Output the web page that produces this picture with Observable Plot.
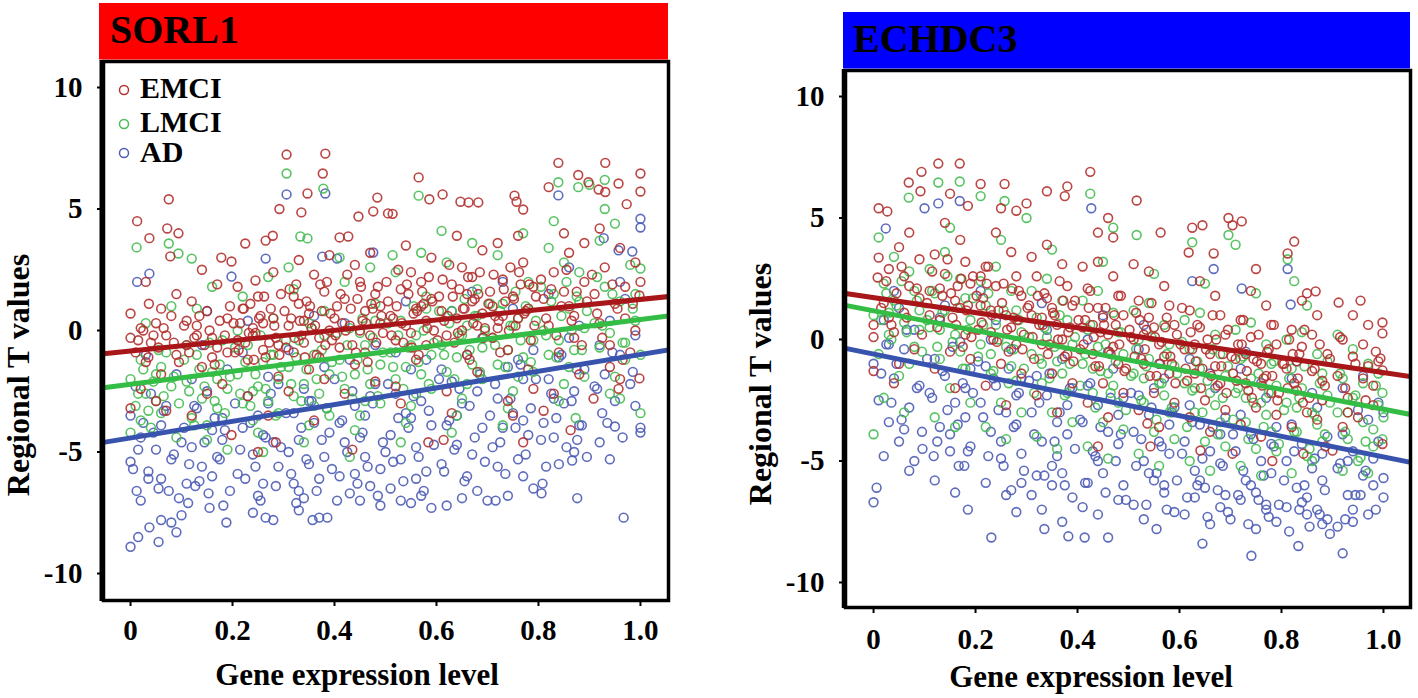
<!DOCTYPE html>
<html><head><meta charset="utf-8">
<script src="https://cdn.jsdelivr.net/npm/d3@7"></script>
<script src="https://cdn.jsdelivr.net/npm/@observablehq/plot@0.6"></script>
<style>
body{margin:0;background:#fff;}
#wrap{position:relative;width:1418px;height:698px;overflow:hidden;background:#fff;}
</style></head><body><div id="wrap"></div>
<script>
const groups = ["EMCI","LMCI","AD"];
const pointColors = ["#b3312f","#45bd52","#4c5cb6"];
const lineColors = ["#a8161a","#33bd45","#3853ad"];
const xTicks = [0,0.2,0.4,0.6,0.8,1.0];
const yTicks = [-10,-5,0,5,10];
const panelTitles = ["SORL1","ECHDC3"];
const xLabel = "Gene expression level";
const yLabel = "Regional T values";

// SORL1 fitted lines (intercept, slope) for EMCI, LMCI, AD
const sorl1Intercepts = [-0.84,-2.21,-4.42];
const sorl1Slopes = [2.12,2.66,3.43];
// ECHDC3 fitted lines
const echdc3Intercepts = [1.72,1.18,-0.60];
const echdc3Slopes = [-3.08,-4.05,-4.23];

const sorl1EMCI = [[0.00,-0.3],[0.01,-0.9],[0.02,0.1],[0.03,-1.3],[0.04,-0.5],[0.05,0.3],[0.06,-1.8],[0.07,-0.2],[0.08,0.6],[0.09,-1.0],[0.00,0.7],[0.013,4.5],[0.075,5.4],[0.072,4.2],[0.094,4.0],[0.037,3.8],[0.078,3.05],[0.036,1.1],[0.0,-3.2],[0.07,-3.3],[0.02,-2.4],[0.05,-2.9],[0.09,1.5],[0.03,2.0],[0.06,0.9],
[0.11,-0.6],[0.12,-3.5],[0.13,0.2],[0.14,-1.5],[0.15,0.8],[0.16,-0.3],[0.17,1.9],[0.178,3.0],[0.198,2.84],[0.18,-2.2],[0.19,-0.9],[0.12,1.2],[0.14,2.5],[0.16,-1.1],[0.11,0.4],[0.19,0.5],[0.198,-4.3],[0.15,-2.6],[0.13,-0.2],[0.17,-0.7],
[0.225,3.58],[0.245,2.06],[0.25,-5.0],[0.285,-4.6],[0.265,3.7],[0.279,3.9],[0.292,5.0],[0.21,-0.4],[0.22,0.9],[0.23,-1.2],[0.24,0.1],[0.25,1.4],[0.26,-0.8],[0.27,-3.5],[0.28,0.5],[0.29,-1.9],[0.21,1.8],[0.23,-2.7],[0.26,0.3],[0.28,2.4],[0.24,-0.2],[0.29,-0.6],
[0.306,7.24],[0.382,7.28],[0.377,6.46],[0.347,5.64],[0.335,4.86],[0.36,-3.7],[0.31,0.2],[0.32,-0.9],[0.33,1.1],[0.34,0.4],[0.35,-1.6],[0.36,2.3],[0.37,-0.3],[0.38,1.6],[0.39,0.0],[0.31,-2.5],[0.33,2.9],[0.35,0.7],[0.37,-1.1],[0.39,3.1],[0.32,1.4],[0.34,-0.5],[0.38,-2.0],
[0.41,3.83],[0.427,3.87],[0.447,4.69],[0.476,4.90],[0.484,5.47],[0.435,-4.9],[0.40,0.5],[0.41,-0.7],[0.42,1.3],[0.43,0.2],[0.44,-1.4],[0.45,2.0],[0.46,0.8],[0.47,-0.2],[0.48,1.5],[0.49,0.3],[0.42,-2.6],[0.44,2.7],[0.46,-0.9],[0.48,-2.1],[0.45,0.0],[0.47,3.2],[0.49,1.0],
[0.505,4.82],[0.514,4.8],[0.565,6.3],[0.584,-4.6],[0.586,5.4],[0.51,0.6],[0.52,-0.4],[0.53,1.7],[0.54,0.2],[0.55,2.4],[0.56,-1.2],[0.57,1.0],[0.58,0.4],[0.59,3.0],[0.52,-2.3],[0.54,3.5],[0.56,0.9],[0.58,-0.6],[0.53,-3.0],[0.57,2.0],[0.55,-0.1],[0.59,1.3],
[0.612,5.6],[0.614,-4.5],[0.647,5.3],[0.663,5.27],[0.682,5.27],[0.61,0.8],[0.62,-0.2],[0.63,1.9],[0.64,0.5],[0.65,2.6],[0.66,-1.0],[0.67,1.2],[0.68,0.2],[0.69,3.3],[0.62,-2.5],[0.64,3.9],[0.66,1.5],[0.68,-1.7],[0.63,-3.4],[0.65,0.0],[0.67,2.2],[0.69,0.7],
[0.753,5.55],[0.757,5.3],[0.77,4.98],[0.77,-4.6],[0.71,1.0],[0.72,0.1],[0.73,2.1],[0.74,-0.8],[0.75,1.4],[0.76,0.5],[0.77,2.8],[0.78,-1.6],[0.79,1.8],[0.72,3.6],[0.74,-2.9],[0.76,3.9],[0.78,0.9],[0.71,-0.3],[0.79,-2.4],[0.73,0.6],[0.75,-3.5],
[0.839,6.9],[0.878,6.4],[0.898,6.1],[0.82,5.9],[0.863,-4.1],[0.81,1.3],[0.82,0.2],[0.83,2.4],[0.84,-0.9],[0.85,1.6],[0.86,3.2],[0.87,0.6],[0.88,-1.8],[0.89,2.0],[0.83,-2.6],[0.85,4.0],[0.87,-0.3],[0.89,3.6],[0.81,-3.3],[0.86,1.0],
[0.931,6.9],[1.0,6.46],[1.0,5.72],[0.918,5.8],[0.931,5.7],[0.957,6.05],[0.973,5.2],[1.0,2.0],[0.998,1.44],[0.998,-1.97],[0.957,-2.4],[0.96,-2.0],[0.908,-2.8],[0.98,-0.9],[0.91,1.5],[0.92,0.3],[0.93,2.6],[0.94,-0.6],[0.95,1.1],[0.96,3.4],[0.97,0.5],[0.99,2.8],[0.92,4.2],[0.94,-1.5],[0.97,1.8],[0.99,0.0]];
const sorl1EMCICore = [[0.015,-0.4],[0.025,0.0],[0.035,-1.1],[0.045,-0.2],[0.055,-0.7],[0.065,0.1],[0.085,-0.5],[0.095,-1.3],[0.105,0.2],[0.115,-0.9],[0.125,-0.3],[0.135,0.6],[0.145,-0.6],[0.155,0.0],[0.165,-1.4],[0.175,0.4],[0.185,-0.2],[0.195,1.0],[0.205,-0.9],[0.215,0.3],[0.225,-0.5],[0.235,1.1],[0.245,-0.1],[0.255,0.6],[0.265,-1.1],[0.275,0.9],[0.285,-0.3],[0.295,1.5],[0.305,-0.7],[0.315,0.5],[0.325,1.9],[0.335,-0.2],[0.345,1.2],[0.355,0.1],[0.365,-1.0],[0.375,0.8],[0.385,2.0],[0.395,-0.4],[0.405,1.0],[0.415,0.3],[0.425,2.3],[0.435,-0.6],[0.445,1.3],[0.455,0.4],[0.465,-1.3],[0.475,0.9],[0.485,1.8],[0.495,-0.1],[0.505,1.2],[0.515,0.5],[0.525,2.5],[0.535,-0.5],[0.545,1.5],[0.555,0.7],[0.565,-1.0],[0.575,1.1],[0.585,2.2],[0.595,0.0],[0.605,1.4],[0.615,0.4],[0.625,2.7],[0.635,-0.5],[0.645,1.7],[0.655,0.9],[0.665,-1.2],[0.675,1.3],[0.685,2.4],[0.695,0.1],[0.705,1.6],[0.715,0.6],[0.725,-0.9],[0.735,1.2],[0.745,2.6],[0.755,0.2],[0.765,1.9],[0.775,0.8],[0.785,-0.4],[0.795,1.4],[0.805,2.1],[0.815,0.5],[0.825,1.7],[0.835,-0.2],[0.845,1.0],[0.855,2.5],[0.865,0.4],[0.875,1.6],[0.885,-0.6],[0.895,1.2],[0.905,2.3],[0.915,0.7],[0.925,-0.3],[0.945,1.9],[0.955,0.9],[0.965,-1.2],[0.985,1.1]];
const sorl1EMCIDense = [[0.202,0.3],[0.212,-0.8],[0.222,0.9],[0.232,-0.1],[0.242,-1.2],[0.252,0.5],[0.262,1.4],[0.272,-0.5],[0.282,0.2],[0.292,-1.0],[0.302,0.8],[0.312,1.7],[0.322,-0.3],[0.332,0.4],[0.342,-1.1],[0.352,1.0],[0.362,0.2],[0.372,1.9],[0.382,-0.6],[0.392,0.7],[0.402,-0.2],[0.412,1.5],[0.422,0.0],[0.432,0.9],[0.442,-0.9],[0.452,1.8],[0.462,0.3],[0.472,1.1],[0.482,-0.5],[0.492,0.6],[0.502,2.0],[0.512,-0.2],[0.522,1.0],[0.532,0.3],[0.542,1.9],[0.552,-0.7],[0.562,0.8],[0.572,1.6],[0.582,0.1],[0.592,1.2],[0.602,-0.4],[0.612,2.1],[0.622,0.6],[0.632,1.4],[0.642,-0.1],[0.652,0.9],[0.662,2.2],[0.672,0.3],[0.682,1.5],[0.692,-0.3],[0.702,1.1],[0.712,2.3],[0.722,0.4],[0.732,1.7],[0.742,0.0],[0.752,1.3],[0.762,2.4],[0.772,0.7],[0.782,1.9],[0.792,0.2]];

const sorl1LMCI = [[0.012,3.42],[0.075,3.58],[0.00,-2.0],[0.01,-3.1],[0.02,-1.2],[0.03,-2.6],[0.04,-4.0],[0.05,-1.8],[0.06,-3.4],[0.07,-0.9],[0.08,-2.3],[0.09,-4.4],[0.00,-4.2],[0.03,0.3],[0.05,-2.9],[0.08,1.0],[0.02,-3.7],[0.06,-1.5],
[0.094,3.17],[0.12,2.96],[0.11,-2.1],[0.12,-3.6],[0.13,-1.0],[0.14,-2.8],[0.15,-4.5],[0.16,-1.7],[0.17,-3.2],[0.18,-0.4],[0.19,-2.4],[0.13,0.9],[0.15,-3.9],[0.17,-2.0],[0.19,-4.9],[0.11,-0.6],[0.16,1.8],
[0.21,-1.8],[0.22,-3.0],[0.23,-0.6],[0.24,-2.5],[0.25,-4.2],[0.26,-1.3],[0.27,-2.9],[0.28,0.5],[0.29,-2.0],[0.22,1.4],[0.24,-3.7],[0.26,-5.0],[0.28,-1.0],[0.21,0.0],[0.27,2.2],[0.25,-2.3],[0.29,-3.4],
[0.306,6.46],[0.378,5.84],[0.333,3.87],[0.347,3.79],[0.31,-1.5],[0.32,-2.7],[0.33,-0.4],[0.34,-2.2],[0.35,-3.9],[0.36,-1.0],[0.37,-2.6],[0.38,0.8],[0.39,-1.8],[0.32,1.7],[0.34,-4.6],[0.36,-3.1],[0.38,-0.2],[0.31,2.6],[0.39,-3.5],[0.35,0.3],
[0.41,-1.2],[0.42,-2.4],[0.43,0.1],[0.44,-1.8],[0.45,-3.5],[0.46,-0.6],[0.47,-2.2],[0.48,1.1],[0.49,-1.4],[0.42,2.0],[0.44,-4.1],[0.46,-2.9],[0.48,0.4],[0.41,3.0],[0.49,-3.0],[0.45,-0.1],[0.43,-5.2],[0.47,2.6],
[0.514,3.1],[0.565,5.55],[0.51,-0.9],[0.52,-2.0],[0.53,0.4],[0.54,-1.5],[0.55,-3.1],[0.56,-0.2],[0.57,-1.8],[0.58,1.4],[0.59,-1.0],[0.52,2.4],[0.54,-3.8],[0.56,-2.6],[0.58,0.9],[0.53,-4.6],[0.57,3.2],[0.55,-0.6],[0.59,-2.4],
[0.61,-0.6],[0.62,-1.7],[0.63,0.8],[0.64,-1.1],[0.65,-2.8],[0.66,0.2],[0.67,-1.4],[0.68,1.7],[0.69,-0.7],[0.62,2.8],[0.64,-3.5],[0.66,-2.2],[0.68,0.6],[0.63,-4.2],[0.67,3.6],[0.65,-0.2],[0.69,-2.0],[0.61,4.1],
[0.71,-0.3],[0.72,-1.4],[0.73,1.1],[0.74,-0.8],[0.75,-2.5],[0.76,0.5],[0.77,-1.1],[0.78,2.0],[0.79,-0.4],[0.72,3.1],[0.74,-3.2],[0.76,-1.9],[0.78,0.9],[0.73,-3.9],[0.77,4.0],[0.75,0.2],[0.79,-1.7],
[0.839,6.1],[0.878,5.9],[0.873,-3.6],[0.81,0.0],[0.82,-1.0],[0.83,1.5],[0.84,-0.4],[0.85,-2.2],[0.86,0.9],[0.87,-0.8],[0.88,2.4],[0.89,0.1],[0.82,3.4],[0.84,-2.9],[0.86,-1.5],[0.88,1.2],[0.83,4.5],[0.89,-1.9],[0.85,2.8],
[0.9,6.0],[0.93,6.2],[1.0,2.55],[1.0,-3.4],[0.96,-2.8],[0.91,0.3],[0.92,-0.7],[0.93,1.8],[0.94,-0.1],[0.95,-1.9],[0.96,1.2],[0.97,-0.5],[0.98,2.7],[0.99,0.4],[0.92,3.7],[0.94,-2.6],[0.97,-1.2],[0.99,1.5],[0.95,4.4],[1.0,-1.0],[0.93,5.0]];
const sorl1LMCICore = [[0.015,-2.6],[0.025,-1.6],[0.035,-3.3],[0.045,-2.1],[0.055,-0.8],[0.065,-2.7],[0.085,-1.9],[0.095,-3.0],[0.105,-1.2],[0.115,-2.5],[0.125,-3.9],[0.135,-1.6],[0.145,-2.3],[0.155,-0.5],[0.165,-2.9],[0.175,-1.4],[0.185,-3.4],[0.195,-1.9],[0.205,-0.7],[0.215,-2.6],[0.225,-1.3],[0.235,-3.1],[0.245,-1.8],[0.255,-0.2],[0.265,-2.4],[0.275,-1.0],[0.285,-3.5],[0.295,-1.5],[0.305,-0.4],[0.315,-2.2],[0.325,-1.1],[0.335,-2.9],[0.345,-1.6],[0.355,0.1],[0.365,-2.0],[0.375,-0.8],[0.385,-3.2],[0.395,-1.3],[0.405,-0.1],[0.415,-1.9],[0.425,-0.6],[0.435,-2.8],[0.445,-1.2],[0.455,0.5],[0.465,-1.6],[0.475,-0.3],[0.485,-2.7],[0.495,-0.9],[0.505,0.3],[0.515,-1.5],[0.525,-0.2],[0.535,-2.4],[0.545,-0.7],[0.555,1.0],[0.565,-1.3],[0.575,0.0],[0.585,-2.2],[0.595,-0.5],[0.605,0.8],[0.615,-1.0],[0.625,0.3],[0.635,-2.0],[0.645,-0.2],[0.655,1.3],[0.665,-0.8],[0.675,0.6],[0.685,-1.7],[0.695,0.0],[0.705,1.1],[0.715,-0.6],[0.725,0.8],[0.735,-1.5],[0.745,0.2],[0.755,1.6],[0.765,-0.4],[0.775,1.0],[0.785,-1.3],[0.795,0.4],[0.805,1.8],[0.815,-0.2],[0.825,1.2],[0.835,-1.1],[0.845,0.6],[0.855,2.0],[0.865,0.0],[0.875,1.4],[0.885,-0.8],[0.895,0.8],[0.915,2.2],[0.925,0.2],[0.945,1.5],[0.965,-0.5],[0.985,0.9]];

const sorl1AD = [[0.0,-8.9],[0.015,-8.5],[0.055,-8.7],[0.037,-8.1],[0.06,-7.8],[0.08,-7.9],[0.09,-8.3],[0.1,-7.6],[0.02,-7.0],[0.012,-6.6],[0.0,-5.4],[0.005,-5.7],[0.035,-6.1],[0.06,-6.1],[0.075,-6.6],[0.013,2.0],[0.037,2.34],[0.0,-3.5],[0.02,-4.4],[0.04,-2.6],[0.05,-4.9],[0.07,-3.1],[0.08,-5.3],[0.09,-1.8],[0.03,-1.0],[0.06,-3.9],[0.1,-4.6],[0.01,-2.3],
[0.113,-7.1],[0.11,-6.3],[0.127,-6.4],[0.153,-6.7],[0.182,-7.2],[0.188,-7.9],[0.198,2.22],[0.12,-4.8],[0.13,-3.2],[0.14,-5.6],[0.15,-2.5],[0.16,-4.1],[0.17,-5.2],[0.18,-3.6],[0.19,-1.6],[0.14,-0.6],[0.16,-6.0],[0.12,-2.0],[0.18,-4.5],[0.15,0.8],
[0.24,-7.5],[0.265,-7.7],[0.28,-7.8],[0.265,2.96],[0.21,-5.9],[0.22,-4.0],[0.23,-2.7],[0.24,-5.1],[0.25,-3.5],[0.26,-6.3],[0.27,-1.9],[0.28,-4.6],[0.29,-5.6],[0.22,-0.9],[0.25,-6.8],[0.27,-3.0],[0.29,-2.2],[0.23,0.4],[0.26,-4.3],
[0.306,5.6],[0.382,5.64],[0.376,3.04],[0.33,-7.4],[0.357,-7.8],[0.37,-7.7],[0.386,-7.7],[0.33,-6.6],[0.34,-6.9],[0.31,-5.0],[0.32,-3.4],[0.33,-4.5],[0.34,-2.4],[0.35,-5.5],[0.36,-3.8],[0.37,-6.1],[0.38,-1.5],[0.39,-4.2],[0.31,-0.8],[0.35,-2.9],[0.38,-5.2],[0.32,-6.3],[0.36,0.6],
[0.405,2.96],[0.476,3.21],[0.41,-6.0],[0.43,-6.7],[0.45,-7.0],[0.47,-6.4],[0.49,-7.2],[0.42,-4.6],[0.44,-3.1],[0.46,-5.2],[0.48,-2.2],[0.41,-3.8],[0.43,-1.2],[0.45,-4.4],[0.47,-2.7],[0.49,-5.7],[0.42,0.3],[0.44,-5.9],[0.46,-3.5],[0.48,-0.6],[0.4,-2.0],
[0.55,-7.1],[0.57,-6.8],[0.59,-7.3],[0.51,-6.5],[0.53,-7.0],[0.51,-4.3],[0.52,-2.6],[0.53,-5.3],[0.54,-3.4],[0.55,-1.6],[0.56,-4.8],[0.57,-2.9],[0.58,-5.8],[0.59,-3.9],[0.52,-0.9],[0.54,1.2],[0.56,-6.1],[0.58,-1.2],[0.55,-3.6],[0.5,-5.0],
[0.62,-7.2],[0.65,-6.9],[0.70,-7.0],[0.68,-6.6],[0.61,-5.5],[0.62,-3.9],[0.63,-2.1],[0.64,-4.7],[0.65,-3.0],[0.66,-1.0],[0.67,-5.1],[0.68,-2.5],[0.69,-4.0],[0.61,-1.6],[0.63,0.8],[0.66,-6.0],[0.69,-0.3],[0.64,-3.5],[0.67,1.6],
[0.716,-7.0],[0.74,-6.8],[0.77,-6.0],[0.79,-6.5],[0.71,-4.8],[0.72,-2.8],[0.73,-4.0],[0.74,-1.5],[0.75,-3.4],[0.76,-5.3],[0.77,-2.0],[0.78,-4.3],[0.79,-0.8],[0.72,-5.6],[0.75,0.9],[0.77,-3.7],[0.73,2.0],[0.76,-1.2],
[0.839,5.56],[0.876,-6.9],[0.806,-6.7],[0.808,-6.3],[0.87,-5.0],[0.866,-5.35],[0.876,-4.5],[0.81,-3.8],[0.82,-2.0],[0.83,-4.4],[0.84,-1.1],[0.85,-3.0],[0.86,-0.3],[0.87,-2.5],[0.88,-3.9],[0.89,-1.6],[0.82,1.5],[0.84,-5.5],[0.86,2.6],[0.88,0.2],[0.83,-2.8],
[1.0,4.6],[1.0,4.24],[0.928,3.8],[0.957,3.3],[0.984,3.25],[0.967,-7.7],[1.0,-4.0],[1.0,-4.2],[0.935,-3.8],[0.95,-3.95],[0.91,-2.3],[0.92,-0.6],[0.93,-1.8],[0.94,0.4],[0.95,-2.9],[0.96,-1.0],[0.97,1.3],[0.98,-2.2],[0.99,-0.2],[0.92,-4.6],[0.96,2.0],[0.99,-3.1],[0.94,-5.3]];
const sorl1ADCore = [[0.015,-4.9],[0.025,-3.8],[0.035,-5.8],[0.045,-4.2],[0.055,-6.5],[0.065,-3.3],[0.085,-5.1],[0.095,-6.9],[0.105,-4.0],[0.115,-5.5],[0.125,-3.1],[0.135,-6.2],[0.145,-4.6],[0.155,-7.3],[0.165,-3.6],[0.175,-5.3],[0.185,-4.1],[0.195,-6.6],[0.205,-3.0],[0.215,-4.9],[0.225,-6.1],[0.235,-3.8],[0.245,-5.6],[0.255,-7.0],[0.265,-4.4],[0.275,-2.6],[0.285,-6.4],[0.295,-4.8],[0.305,-3.4],[0.315,-5.9],[0.325,-7.1],[0.335,-4.0],[0.345,-5.3],[0.355,-2.9],[0.365,-6.6],[0.375,-4.5],[0.385,-3.2],[0.395,-5.7],[0.405,-7.0],[0.415,-3.7],[0.425,-5.0],[0.435,-2.5],[0.445,-6.3],[0.455,-4.2],[0.465,-5.6],[0.475,-3.0],[0.485,-6.8],[0.495,-4.6],[0.505,-2.2],[0.515,-5.4],[0.525,-3.6],[0.535,-6.2],[0.545,-4.0],[0.555,-2.7],[0.565,-5.2],[0.575,-6.6],[0.585,-3.3],[0.595,-4.7],[0.605,-2.0],[0.615,-5.8],[0.625,-3.7],[0.635,-4.9],[0.645,-2.4],[0.655,-6.2],[0.665,-3.1],[0.675,-4.4],[0.685,-1.8],[0.695,-5.4],[0.705,-3.5],[0.715,-2.2],[0.725,-4.6],[0.735,-5.9],[0.745,-2.8],[0.755,-4.0],[0.765,-1.4],[0.775,-5.1],[0.785,-3.2],[0.795,-2.0],[0.805,-4.5],[0.815,-5.6],[0.825,-2.6],[0.835,-3.6],[0.845,-1.0],[0.855,-4.8],[0.865,-2.9],[0.875,-1.6],[0.885,-3.9],[0.895,-5.2],[0.915,-2.4],[0.925,-3.4],[0.945,-0.9],[0.965,-4.4],[0.985,-1.7]];

const echdc3EMCI = [[0.01,5.4],[0.027,5.27],[0.069,6.46],[0.092,6.1],[0.094,6.9],[0.008,2.55],[0.01,3.37],[0.0,0.6],[0.0,0.1],[0.0,-1.3],[0.04,-1.8],[0.02,1.5],[0.03,2.9],[0.04,0.3],[0.05,3.8],[0.06,1.1],[0.07,2.2],[0.08,-0.4],[0.09,3.3],[0.05,-1.0],[0.07,4.4],[0.03,0.9],[0.09,1.7],[0.06,2.6],
[0.127,7.24],[0.169,7.24],[0.15,6.0],[0.185,5.5],[0.11,2.0],[0.12,3.5],[0.13,0.8],[0.14,2.7],[0.15,-0.5],[0.16,1.6],[0.17,4.1],[0.18,0.2],[0.19,2.3],[0.12,-1.2],[0.14,4.8],[0.16,-2.0],[0.18,3.2],[0.11,1.0],[0.17,1.3],[0.19,-0.8],[0.13,2.1],
[0.21,6.4],[0.257,6.4],[0.25,5.4],[0.28,5.3],[0.21,1.4],[0.22,3.0],[0.23,0.3],[0.24,2.2],[0.25,-1.0],[0.26,1.0],[0.27,3.6],[0.28,-0.2],[0.29,1.8],[0.22,-1.9],[0.24,4.4],[0.26,-2.7],[0.28,2.6],[0.23,1.2],[0.27,0.5],[0.29,-1.4],[0.21,2.6],
[0.30,5.6],[0.34,6.1],[0.375,5.9],[0.38,6.3],[0.31,1.0],[0.32,2.6],[0.33,-0.2],[0.34,1.7],[0.35,-1.4],[0.36,0.6],[0.37,3.1],[0.38,-0.6],[0.39,1.4],[0.32,-2.3],[0.34,3.9],[0.36,-3.0],[0.38,2.2],[0.33,0.9],[0.37,0.0],[0.39,-1.8],[0.31,3.4],[0.35,1.3],
[0.425,6.9],[0.44,4.4],[0.46,5.0],[0.47,4.2],[0.44,-4.4],[0.41,0.5],[0.42,2.1],[0.43,-0.6],[0.44,1.3],[0.45,-1.8],[0.46,0.2],[0.47,2.6],[0.48,-1.0],[0.49,1.0],[0.42,-2.6],[0.44,3.2],[0.46,-3.2],[0.48,1.8],[0.43,0.6],[0.47,-0.3],[0.49,-2.2],[0.41,3.0],[0.45,0.9],
[0.516,5.72],[0.563,4.4],[0.537,-3.46],[0.543,-4.4],[0.51,0.0],[0.52,1.6],[0.53,-1.0],[0.54,0.9],[0.55,-2.2],[0.56,-0.2],[0.57,2.2],[0.58,-1.4],[0.59,0.6],[0.52,-2.9],[0.54,2.8],[0.56,-3.6],[0.58,1.4],[0.53,0.2],[0.57,-0.7],[0.59,-2.6],[0.51,3.1],[0.55,0.5],
[0.625,4.6],[0.645,4.7],[0.696,5.0],[0.618,3.58],[0.667,3.54],[0.641,-4.57],[0.61,-0.4],[0.62,1.2],[0.63,-1.4],[0.64,0.5],[0.65,-2.5],[0.66,-0.6],[0.67,1.8],[0.68,-1.8],[0.69,0.2],[0.62,-3.2],[0.64,2.4],[0.66,-3.8],[0.68,1.0],[0.63,-0.2],[0.67,-1.1],[0.69,-2.9],
[0.704,4.7],[0.722,4.86],[0.704,-4.7],[0.782,-5.0],[0.71,-0.8],[0.72,0.8],[0.73,-1.8],[0.74,0.1],[0.75,-2.8],[0.76,-1.0],[0.77,1.4],[0.78,-2.2],[0.79,-0.2],[0.72,-3.5],[0.74,2.0],[0.76,-4.0],[0.78,0.6],[0.73,-0.6],[0.77,-1.5],[0.79,-3.1],[0.75,2.9],
[0.812,3.54],[0.825,4.03],[0.867,1.98],[0.843,-4.7],[0.886,-4.4],[0.81,-1.2],[0.82,0.4],[0.83,-2.1],[0.84,-0.3],[0.85,-3.0],[0.86,-1.3],[0.87,1.0],[0.88,-2.5],[0.89,-0.6],[0.82,-3.6],[0.84,1.6],[0.86,0.2],[0.88,-1.7],[0.83,-0.9],[0.87,-3.3],[0.85,1.9],
[0.912,1.52],[0.955,1.6],[0.998,0.7],[0.998,0.25],[0.994,-0.78],[0.998,-1.27],[0.998,-4.3],[0.9,-4.57],[0.91,-1.5],[0.92,0.0],[0.93,-2.4],[0.94,-0.7],[0.95,-3.2],[0.96,-1.6],[0.97,0.6],[0.98,-2.7],[0.99,-0.9],[0.92,-3.6],[0.94,1.0],[0.96,-0.2],[0.98,-1.9],[0.93,-3.0],[0.97,-1.1]];
const echdc3EMCICore = [[0.015,1.3],[0.025,2.4],[0.035,0.6],[0.045,1.9],[0.055,3.0],[0.065,0.9],[0.085,2.1],[0.095,0.2],[0.105,1.5],[0.115,2.8],[0.125,0.5],[0.135,1.8],[0.145,3.3],[0.155,0.9],[0.165,2.2],[0.175,-0.3],[0.185,1.4],[0.195,2.6],[0.205,0.4],[0.215,1.7],[0.225,3.0],[0.235,0.0],[0.245,1.2],[0.255,2.3],[0.265,-0.5],[0.275,0.9],[0.285,2.0],[0.295,0.2],[0.305,1.4],[0.315,-0.8],[0.325,0.6],[0.335,1.9],[0.345,-0.2],[0.355,1.0],[0.365,2.4],[0.375,-0.7],[0.385,0.5],[0.395,1.6],[0.405,-0.4],[0.415,0.8],[0.425,2.0],[0.435,-1.1],[0.445,0.3],[0.455,1.3],[0.465,-0.6],[0.475,0.6],[0.485,1.8],[0.495,-1.2],[0.505,0.1],[0.515,1.1],[0.525,-0.8],[0.535,0.4],[0.545,1.5],[0.555,-1.5],[0.565,-0.1],[0.575,0.9],[0.585,-1.0],[0.595,0.2],[0.605,1.3],[0.615,-1.7],[0.625,-0.4],[0.635,0.6],[0.645,-1.2],[0.655,0.0],[0.665,1.0],[0.675,-1.9],[0.685,-0.6],[0.695,0.4],[0.705,-1.4],[0.715,-0.2],[0.725,0.8],[0.735,-2.1],[0.745,-0.8],[0.755,0.2],[0.765,-1.6],[0.775,-0.4],[0.785,0.6],[0.795,-2.2],[0.805,-1.0],[0.815,0.0],[0.825,-1.8],[0.835,-0.6],[0.845,0.4],[0.855,-2.4],[0.865,-1.2],[0.875,-0.2],[0.885,-1.9],[0.895,-0.8],[0.915,0.1],[0.925,-2.0],[0.945,-1.0],[0.965,-2.5],[0.985,-0.5]];
const echdc3EMCIDense = [[0.152,1.9],[0.162,0.6],[0.172,2.5],[0.182,1.2],[0.192,0.1],[0.202,1.8],[0.212,0.7],[0.222,2.3],[0.232,1.0],[0.242,-0.1],[0.252,1.5],[0.262,0.4],[0.272,2.1],[0.282,0.8],[0.292,-0.4],[0.302,1.3],[0.312,0.1],[0.322,1.8],[0.332,0.6],[0.342,-0.6],[0.352,1.1],[0.362,0.0],[0.372,1.6],[0.382,0.3],[0.392,-0.9],[0.402,0.8],[0.412,-0.2],[0.422,1.3],[0.432,0.1],[0.442,-1.1],[0.452,0.6],[0.462,-0.5],[0.472,1.0],[0.482,-0.2],[0.492,-1.3],[0.502,0.4],[0.512,-0.7],[0.522,0.8],[0.532,-0.4],[0.542,-1.5],[0.552,0.1],[0.562,-1.0],[0.572,0.5],[0.582,-0.7],[0.592,-1.8],[0.602,-0.2],[0.612,-1.2],[0.622,0.3],[0.632,-0.9],[0.642,-2.0],[0.652,-0.4],[0.662,-1.5],[0.672,0.0],[0.682,-1.1],[0.692,-2.2],[0.702,-0.7],[0.712,-1.7],[0.722,-0.2],[0.732,-1.3],[0.742,-2.4],[0.752,-0.9],[0.762,-1.9],[0.772,-0.5],[0.782,-1.5],[0.792,-2.5],[0.802,-1.0],[0.812,-2.0],[0.822,-0.6],[0.832,-1.6],[0.842,-2.6]];

const echdc3LMCI = [[0.01,4.2],[0.069,5.84],[0.0,-3.9],[0.0,1.0],[0.01,-0.6],[0.02,2.3],[0.03,0.2],[0.04,1.6],[0.05,-1.5],[0.06,0.7],[0.07,2.8],[0.08,-0.3],[0.09,1.2],[0.02,-2.4],[0.04,3.4],[0.06,-3.0],[0.08,2.0],[0.03,1.1],[0.07,-1.0],[0.09,0.4],
[0.127,6.46],[0.169,6.5],[0.11,0.5],[0.12,1.9],[0.13,-0.8],[0.14,1.2],[0.15,-2.0],[0.16,0.2],[0.17,2.5],[0.18,-1.2],[0.19,0.8],[0.12,-3.2],[0.14,3.6],[0.16,-3.6],[0.18,1.7],[0.13,0.4],[0.17,-0.5],[0.19,-2.6],[0.11,2.9],[0.15,4.6],
[0.21,5.9],[0.257,5.7],[0.21,-0.2],[0.22,1.4],[0.23,-1.4],[0.24,0.6],[0.25,-2.6],[0.26,-0.3],[0.27,2.0],[0.28,-1.7],[0.29,0.3],[0.22,-3.6],[0.24,3.0],[0.26,-4.1],[0.28,1.2],[0.23,-0.6],[0.27,-1.1],[0.29,-3.0],[0.21,2.4],[0.25,4.1],
[0.31,-0.6],[0.32,0.9],[0.33,-1.8],[0.34,0.1],[0.35,-3.0],[0.36,-0.9],[0.37,1.6],[0.38,-2.2],[0.39,-0.2],[0.32,-4.0],[0.34,2.5],[0.36,-4.5],[0.38,0.8],[0.33,-1.0],[0.37,-1.4],[0.39,-3.4],[0.31,2.0],[0.35,3.7],[0.3,5.0],
[0.425,6.0],[0.41,-1.0],[0.42,0.4],[0.43,-2.2],[0.44,-0.3],[0.45,-3.4],[0.46,-1.4],[0.47,1.1],[0.48,-2.6],[0.49,-0.6],[0.42,-4.4],[0.44,2.0],[0.46,-4.9],[0.48,0.3],[0.43,-1.2],[0.47,-1.9],[0.49,-3.7],[0.41,1.6],[0.45,3.2],[0.47,4.6],
[0.516,4.3],[0.51,-1.4],[0.52,0.0],[0.53,-2.6],[0.54,-0.8],[0.55,-3.8],[0.56,-1.8],[0.57,0.6],[0.58,-3.0],[0.59,-1.1],[0.52,-4.7],[0.54,1.5],[0.56,-5.2],[0.58,-0.2],[0.53,-1.6],[0.57,-2.3],[0.59,-4.1],[0.51,1.2],[0.55,2.7],
[0.625,4.0],[0.696,4.3],[0.71,3.9],[0.61,-1.8],[0.62,-0.4],[0.63,-3.0],[0.64,-1.2],[0.65,-4.2],[0.66,-2.2],[0.67,0.2],[0.68,-3.4],[0.69,-1.5],[0.62,-5.0],[0.64,1.1],[0.66,-5.4],[0.68,-0.6],[0.63,-2.0],[0.67,-2.7],[0.69,-4.4],[0.61,0.8],[0.65,2.3],
[0.71,-2.2],[0.72,-0.8],[0.73,-3.4],[0.74,-1.6],[0.75,-4.5],[0.76,-2.6],[0.77,-0.2],[0.78,-3.8],[0.79,-1.9],[0.72,-5.2],[0.74,0.7],[0.76,-5.6],[0.78,-1.0],[0.73,-2.4],[0.77,-3.1],[0.79,-4.6],[0.71,0.4],[0.75,1.9],
[0.812,3.3],[0.825,2.4],[0.81,-2.6],[0.82,-1.2],[0.83,-3.8],[0.84,-2.0],[0.85,-4.8],[0.86,-3.0],[0.87,-0.6],[0.88,-4.2],[0.89,-2.3],[0.82,-5.5],[0.84,0.3],[0.86,-5.0],[0.88,-1.4],[0.83,-2.8],[0.87,-3.5],[0.89,-0.9],[0.81,0.0],[0.85,1.4],
[0.998,-2.2],[0.998,-4.1],[0.955,-4.86],[0.91,-3.0],[0.92,-1.6],[0.93,-4.1],[0.94,-2.4],[0.95,-5.0],[0.96,-3.4],[0.97,-1.0],[0.98,-4.4],[0.99,-2.7],[0.92,-5.4],[0.94,-0.4],[0.96,-1.8],[0.98,-3.7],[0.93,-3.0],[0.97,-5.5],[0.99,-1.4],[0.91,0.2],[1.0,-3.2]];
const echdc3LMCICore = [[0.015,0.8],[0.025,1.9],[0.035,0.0],[0.045,1.4],[0.055,2.4],[0.065,0.3],[0.085,1.6],[0.095,-0.5],[0.105,0.8],[0.115,2.0],[0.125,-0.3],[0.135,1.1],[0.145,2.6],[0.155,-0.1],[0.165,1.3],[0.175,-1.2],[0.185,0.4],[0.195,1.7],[0.205,-0.7],[0.215,0.6],[0.225,1.9],[0.235,-1.3],[0.245,0.0],[0.255,1.2],[0.265,-1.8],[0.275,-0.4],[0.285,0.8],[0.295,-1.2],[0.305,0.1],[0.315,-2.2],[0.325,-0.8],[0.335,0.5],[0.345,-1.6],[0.355,-0.3],[0.365,1.0],[0.375,-2.3],[0.385,-1.0],[0.395,0.1],[0.405,-1.9],[0.415,-0.6],[0.425,0.6],[0.435,-2.8],[0.445,-1.3],[0.455,-0.2],[0.465,-2.2],[0.475,-0.9],[0.485,0.3],[0.495,-2.9],[0.505,-1.5],[0.515,-0.4],[0.525,-2.5],[0.535,-1.1],[0.545,0.1],[0.555,-3.3],[0.565,-1.8],[0.575,-0.6],[0.585,-2.8],[0.595,-1.4],[0.605,-0.1],[0.615,-3.6],[0.625,-2.1],[0.635,-0.9],[0.645,-3.0],[0.655,-1.7],[0.665,-0.4],[0.675,-3.9],[0.685,-2.4],[0.695,-1.1],[0.705,-3.3],[0.715,-2.0],[0.725,-0.7],[0.735,-4.1],[0.745,-2.6],[0.755,-1.4],[0.765,-3.6],[0.775,-2.2],[0.785,-0.9],[0.795,-4.3],[0.805,-2.9],[0.815,-1.6],[0.825,-3.8],[0.835,-2.4],[0.845,-1.1],[0.855,-4.5],[0.865,-3.1],[0.875,-1.8],[0.885,-3.9],[0.895,-2.6],[0.915,-1.4],[0.925,-3.8],[0.945,-2.3],[0.965,-4.2],[0.985,-1.9]];

const echdc3AD = [[0.024,4.57],[0.1,5.4],[0.006,-6.1],[0.0,-6.7],[0.096,-4.5],[0.0,-1.0],[0.01,-2.5],[0.02,0.8],[0.03,-3.4],[0.04,-1.6],[0.05,-4.2],[0.06,-0.4],[0.07,-2.8],[0.08,-5.0],[0.09,-1.9],[0.02,-4.8],[0.04,2.0],[0.06,-3.7],[0.08,0.4],[0.03,-0.2],[0.07,-5.4],[0.05,1.3],
[0.127,5.6],[0.169,5.7],[0.118,-4.8],[0.167,-5.2],[0.178,-5.2],[0.185,-7.0],[0.11,-2.2],[0.12,-0.8],[0.13,-3.6],[0.14,-1.5],[0.15,-4.6],[0.16,-2.6],[0.17,-0.1],[0.18,-3.2],[0.19,-1.2],[0.12,-5.8],[0.14,1.4],[0.16,-6.3],[0.18,-2.0],[0.13,0.9],[0.15,-3.9],[0.19,-4.4],
[0.231,-8.15],[0.27,-6.2],[0.28,-7.1],[0.29,-5.9],[0.21,-2.6],[0.22,-1.1],[0.23,-3.8],[0.24,-1.9],[0.25,-4.9],[0.26,-3.0],[0.27,-0.4],[0.28,-3.5],[0.29,-1.6],[0.22,-5.9],[0.24,0.8],[0.26,-6.4],[0.28,-2.3],[0.23,0.0],[0.25,-4.2],[0.29,-4.7],[0.21,2.0],
[0.335,-7.8],[0.382,-8.1],[0.31,-6.4],[0.33,-7.0],[0.35,-6.0],[0.37,-7.5],[0.39,-6.5],[0.31,-3.0],[0.32,-1.5],[0.33,-4.2],[0.34,-2.3],[0.35,-5.2],[0.36,-3.4],[0.37,-0.8],[0.38,-3.9],[0.39,-2.0],[0.32,-5.6],[0.34,0.4],[0.36,-4.8],[0.38,-2.7],[0.33,1.5],[0.37,-5.5],
[0.427,5.4],[0.414,-8.15],[0.46,-8.15],[0.41,-6.9],[0.42,-5.9],[0.44,-7.2],[0.48,-6.6],[0.41,-3.4],[0.42,-1.9],[0.43,-4.6],[0.44,-2.7],[0.45,-5.5],[0.46,-3.8],[0.47,-1.2],[0.48,-4.3],[0.49,-2.4],[0.42,0.0],[0.44,-5.0],[0.46,-0.5],[0.48,-3.1],[0.45,1.0],[0.49,-6.0],
[0.555,-7.8],[0.51,-6.8],[0.53,-7.4],[0.57,-6.3],[0.59,-7.1],[0.51,-3.8],[0.52,-2.3],[0.53,-5.0],[0.54,-3.1],[0.55,-5.8],[0.56,-4.2],[0.57,-1.6],[0.58,-4.7],[0.59,-2.8],[0.52,-0.4],[0.54,-5.5],[0.56,-1.0],[0.58,-3.5],[0.53,0.6],[0.55,-2.0],[0.57,-6.0],
[0.625,2.4],[0.667,2.9],[0.645,-8.4],[0.61,-7.2],[0.63,-6.5],[0.66,-7.6],[0.68,-6.9],[0.7,-7.4],[0.61,-4.2],[0.62,-2.7],[0.63,-5.4],[0.64,-3.5],[0.65,-6.1],[0.66,-4.6],[0.67,-2.0],[0.68,-5.1],[0.69,-3.2],[0.62,-0.8],[0.64,-5.8],[0.66,-1.4],[0.68,-3.9],[0.69,-6.4],
[0.722,2.1],[0.741,-8.9],[0.79,-7.5],[0.77,-7.0],[0.72,-6.6],[0.75,-7.8],[0.71,-4.6],[0.72,-3.1],[0.73,-5.8],[0.74,-3.9],[0.75,-6.3],[0.76,-5.0],[0.77,-2.4],[0.78,-5.5],[0.79,-3.6],[0.72,-1.2],[0.74,-6.0],[0.76,-1.8],[0.78,-4.3],[0.73,-0.5],[0.77,-6.8],
[0.812,2.9],[0.818,1.44],[0.833,-8.5],[0.88,-7.6],[0.89,-7.4],[0.81,-6.9],[0.85,-7.2],[0.81,-5.0],[0.82,-3.5],[0.83,-6.1],[0.84,-4.3],[0.85,-6.5],[0.86,-5.3],[0.87,-2.8],[0.88,-5.8],[0.89,-4.0],[0.82,-1.6],[0.84,-6.7],[0.86,-2.2],[0.88,-4.7],[0.83,-0.9],[0.87,-7.0],
[0.92,-8.8],[0.91,-7.7],[0.94,-7.5],[0.955,-6.4],[0.97,-7.2],[1.0,-6.5],[1.0,-5.7],[0.91,-5.3],[0.92,-3.9],[0.93,-6.4],[0.94,-4.6],[0.95,-2.9],[0.96,-5.6],[0.97,-3.3],[0.98,-6.0],[0.99,-4.2],[0.92,-2.0],[0.94,-7.0],[0.96,-1.5],[0.98,-4.9],[1.0,-3.0],[0.93,-5.0],[0.99,-2.6]];
const echdc3ADCore = [[0.015,-1.4],[0.025,-0.2],[0.035,-2.6],[0.045,-1.0],[0.055,-3.3],[0.065,0.4],[0.085,-2.0],[0.095,-3.8],[0.105,-0.8],[0.115,-2.4],[0.125,-4.2],[0.135,-1.3],[0.145,-2.9],[0.155,-0.3],[0.165,-3.5],[0.175,-1.8],[0.185,-4.6],[0.195,-2.2],[0.205,-0.9],[0.215,-3.2],[0.225,-4.8],[0.235,-1.6],[0.245,-2.9],[0.255,-5.2],[0.265,-1.2],[0.275,-3.6],[0.285,-2.2],[0.295,-5.4],[0.305,-1.7],[0.315,-3.9],[0.325,-2.6],[0.335,-5.6],[0.345,-1.4],[0.355,-4.2],[0.365,-3.0],[0.375,-6.0],[0.385,-2.0],[0.395,-4.5],[0.405,-3.3],[0.415,-5.9],[0.425,-1.8],[0.435,-4.8],[0.445,-3.6],[0.455,-6.3],[0.465,-2.4],[0.475,-5.0],[0.485,-3.9],[0.495,-6.6],[0.505,-2.2],[0.515,-5.2],[0.525,-4.1],[0.535,-6.8],[0.545,-2.8],[0.555,-5.5],[0.565,-4.4],[0.575,-7.0],[0.585,-3.0],[0.595,-5.8],[0.605,-4.7],[0.615,-6.5],[0.625,-3.4],[0.635,-6.0],[0.645,-4.9],[0.655,-7.3],[0.665,-3.6],[0.675,-6.2],[0.685,-5.2],[0.695,-7.1],[0.705,-3.9],[0.715,-6.4],[0.725,-5.4],[0.735,-7.6],[0.745,-4.1],[0.755,-6.6],[0.765,-5.6],[0.775,-7.3],[0.785,-4.4],[0.795,-6.8],[0.805,-5.8],[0.815,-7.9],[0.825,-4.6],[0.835,-7.0],[0.845,-6.0],[0.855,-7.7],[0.865,-4.9],[0.875,-7.2],[0.885,-6.2],[0.895,-8.0],[0.915,-5.1],[0.925,-7.4],[0.945,-6.4],[0.965,-5.4],[0.985,-7.0]];

function panel(series, intercepts, slopes, o) {
  const marks = [];
  // draw AD first, then LMCI, then EMCI on top
  [2,1,0].forEach(i => {
    marks.push(Plot.dot(series[i], {x: d => d[0], y: d => d[1], r: 4.4, stroke: pointColors[i], strokeWidth: 1.6, strokeOpacity: 0.9, fill: "none", clip: true}));
  });
  [2,1,0].forEach(i => {
    const pts = o.xDomain.map(x => ({x, y: intercepts[i] + slopes[i] * x}));
    marks.push(Plot.line(pts, {x: "x", y: "y", stroke: lineColors[i], strokeWidth: 5, clip: true}));
  });
  marks.push(Plot.axisX({ticks: xTicks, tickFormat: d => d === 0 ? "0" : d.toFixed(1), tickSize: 6, tickPadding: o.xPad, label: null, strokeWidth: 2}));
  marks.push(Plot.axisY({ticks: yTicks, tickFormat: d => String(d), tickSize: 6, tickPadding: 15, label: null, strokeWidth: 2}));
  marks.push(Plot.frame({stroke: "#000", strokeWidth: 3.5}));
  const svg = Plot.plot({
    width: o.width, height: 698,
    marginLeft: o.ml, marginRight: o.mr, marginTop: o.mt, marginBottom: o.mb,
    x: {domain: o.xDomain}, y: {domain: o.yDomain},
    style: {fontFamily: '"Liberation Serif", "Times New Roman", serif', fontSize: "29px", fontWeight: "bold", background: "transparent", color: "#000", overflow: "visible"},
    marks
  });
  svg.style.position = "absolute";
  svg.style.left = o.left + "px";
  svg.style.top = "0px";
  return svg;
}

const wrap = document.getElementById("wrap");
wrap.appendChild(panel([sorl1EMCI.concat(sorl1EMCICore, sorl1EMCIDense), sorl1LMCI.concat(sorl1LMCICore), sorl1AD.concat(sorl1ADCore)], sorl1Intercepts, sorl1Slopes,
  {left: 0, width: 700, ml: 103, mr: 32, mt: 61, mb: 98, xDomain: [-0.053, 1.055], yDomain: [-11.11, 11.07], xPad: 13}));
wrap.appendChild(panel([echdc3EMCI.concat(echdc3EMCICore, echdc3EMCIDense), echdc3LMCI.concat(echdc3LMCICore), echdc3AD.concat(echdc3ADCore)], echdc3Intercepts, echdc3Slopes,
  {left: 700, width: 718, ml: 145, mr: 8, mt: 70, mb: 91, xDomain: [-0.055, 1.053], yDomain: [-11.03, 11.07], xPad: 15}));

// overlay: title bars, axis titles, legend
const ns = "http://www.w3.org/2000/svg";
const ov = document.createElementNS(ns, "svg");
ov.setAttribute("width", 1418); ov.setAttribute("height", 698);
ov.style.position = "absolute"; ov.style.left = "0px"; ov.style.top = "0px";
ov.setAttribute("font-family", '"Liberation Serif", "Times New Roman", serif');
ov.setAttribute("font-weight", "bold");
let html = "";
html += `<rect x="99" y="3" width="569" height="56.5" fill="#ff0000"/>`;
html += `<text x="110" y="43" font-size="40">${panelTitles[0]}</text>`;
html += `<rect x="843" y="12" width="567" height="56.5" fill="#0000ff"/>`;
html += `<text x="853" y="52" font-size="40">${panelTitles[1]}</text>`;
html += `<text x="357" y="685" font-size="31" text-anchor="middle">${xLabel}</text>`;
html += `<text x="1091" y="687" font-size="31" text-anchor="middle">${xLabel}</text>`;
html += `<text transform="translate(29,375) rotate(-90)" font-size="32" text-anchor="middle">${yLabel}</text>`;
html += `<text transform="translate(771,384) rotate(-90)" font-size="32" text-anchor="middle">${yLabel}</text>`;
html += `<line x1="102" y1="60" x2="102" y2="601" stroke="#000" stroke-width="5"/>`;
html += `<line x1="844" y1="69" x2="844" y2="608" stroke="#000" stroke-width="4.5"/>`;
const legY = [90,124,153], legBase = [98,132,162];
groups.forEach((g,i) => {
  html += `<circle cx="124" cy="${legY[i]}" r="4.5" fill="none" stroke="${pointColors[i]}" stroke-width="1.5"/>`;
  html += `<text x="140" y="${legBase[i]}" font-size="30">${g}</text>`;
});
ov.innerHTML = html;
wrap.appendChild(ov);
</script></body></html>
